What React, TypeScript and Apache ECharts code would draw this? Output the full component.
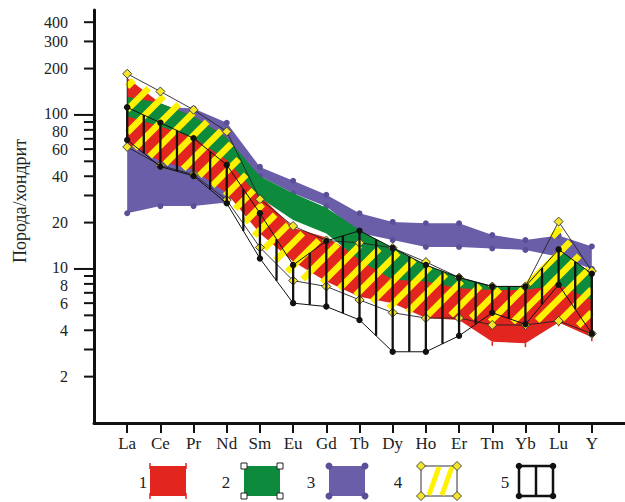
import React, { useEffect, useRef } from "react";
import * as echarts from "echarts";

const categories = ["La", "Ce", "Pr", "Nd", "Sm", "Eu", "Gd", "Tb", "Dy", "Ho", "Er", "Tm", "Yb", "Lu", "Y"];

const yTickValues = [2, 3, 4, 5, 6, 7, 8, 9, 10, 20, 30, 40, 50, 60, 70, 80, 90, 100, 200, 300, 400];
const yTickLabels = [400, 300, 200, 100, 80, 60, 40, 20, 10, 8, 6, 4, 2];
const yLongTicks = [10, 100];

// 1 — red band
const redLow = [65, 50, 44, 31, 17, 11.2, 8.3, 6.6, 6.0, 4.8, 4.67, 3.37, 3.3, 4.5, 3.6];
const redHigh = [174, 119, 98, 71, 30, 18.5, 16, 12, 9, 8.5, 7.9, 7.5, 7.5, 8.2, 6.6];
// 2 — green band
const greenLow = [98, 84, 71, 51, 29, 20.8, 17, 11.4, 8.5, 8.3, 7.5, 7.3, 7.3, 7.9, 6.3];
const greenHigh = [131, 119, 98, 71, 40, 31, 25, 17.9, 13.7, 10.6, 8.8, 7.7, 7.7, 13.4, 9.3];
// 3 — purple band
const purpleLow = [23, 25.6, 25.6, 27, 40, 31, 25.4, 17.1, 15.4, 13.9, 13.9, 13.6, 13.3, 12, 10];
const purpleHigh = [112, 113, 110, 89, 46, 37.4, 30.3, 23, 20.2, 19.8, 19.8, 16.6, 15.4, 16.5, 14];
// 4 — yellow hatched field
const yellowLow = [62, 47, 41, 28, 13.8, 8.4, 7.7, 6.3, 5.2, 4.8, 4.8, 4.33, 4.33, 4.6, 3.8];
const yellowHigh = [185, 142, 108, 78, 28.4, 19, 15.3, 14.8, 13.7, 11.1, 8.8, 7.7, 7.7, 20.3, 9.7];
// 5 — black hatched field
const blackLow = [68.8, 46.2, 40.2, 26.7, 11.7, 6.0, 5.7, 4.67, 2.9, 2.9, 3.68, 5.2, 4.37, 7.9, 3.8];
const blackHigh = [112, 89, 70.6, 47.4, 23, 10.6, 15.2, 17.7, 13.7, 10.6, 8.8, 7.7, 7.7, 13.4, 9.3];

const legendLabels = ["1", "2", "3", "4", "5"];

const FONT = "'Times New Roman', 'Liberation Serif', 'DejaVu Serif', serif";
const RED = "#e2261f";
const GREEN = "#0e8a3c";
const PURPLE = "#6a5ea8";
const PURPLE_DOT = "#5a4f98";
const YELLOW = "#fff200";
const BLACK = "#111111";

type Pt = number[];

function interpY(pts: Pt[], x: number): number {
  if (x <= pts[0][0]) return pts[0][1];
  for (let i = 0; i < pts.length - 1; i++) {
    const a = pts[i];
    const b = pts[i + 1];
    if (x <= b[0]) {
      const t = (x - a[0]) / (b[0] - a[0]);
      return a[1] + t * (b[1] - a[1]);
    }
  }
  return pts[pts.length - 1][1];
}

function diamond(p: Pt) {
  const s = 4.5;
  return {
    type: "polygon",
    shape: { points: [[p[0], p[1] - s], [p[0] + s, p[1]], [p[0], p[1] + s], [p[0] - s, p[1]]] },
    style: { fill: "#f3e52a", stroke: "#333", lineWidth: 0.9 },
  };
}

function bandSeries(name: string, low: number[], high: number[], z: number, draw: (up: Pt[], lo: Pt[]) => any[]) {
  return {
    type: "custom",
    name,
    z,
    clip: false,
    silent: true,
    data: categories.map((_, i) => [i, low[i], high[i]]),
    encode: { x: 0, y: [1, 2] },
    renderItem: (params: any, api: any) => {
      if (params.dataIndex !== 0) return null;
      const up = high.map((v, i) => api.coord([i, v]));
      const lo = low.map((v, i) => api.coord([i, v]));
      return { type: "group", children: draw(up, lo) };
    },
  };
}

const polyOf = (up: Pt[], lo: Pt[]) => up.concat(lo.slice().reverse());

function stripes(up: Pt[], lo: Pt[]) {
  const segs: { a: number; b: number; c: number }[] = [];
  const x0 = up[0][0];
  const x1 = up[up.length - 1][0];
  const ymin = Math.min(...up.map((p) => p[1]));
  const ymax = Math.max(...lo.map((p) => p[1]));
  const period = 23;
  const inset = 2.5;
  for (let c = x0 + ymin - 10; c <= x1 + ymax + period; c += period) {
    let inRun = false;
    let start = 0;
    let last = 0;
    for (let x = x0; x <= x1 + 0.001; x += 0.5) {
      const y = c - x;
      const inside = y >= interpY(up, x) + inset && y <= interpY(lo, x) - inset;
      if (inside && !inRun) {
        inRun = true;
        start = x;
      } else if (!inside && inRun) {
        inRun = false;
        if (last - start > 0.5) segs.push({ a: start, b: last, c });
      }
      if (inside) last = x;
    }
    if (inRun && last - start > 0.5) segs.push({ a: start, b: last, c });
  }
  return segs.map((s) => ({
    type: "line",
    shape: { x1: s.a, y1: s.c - s.a, x2: s.b, y2: s.c - s.b },
    style: { stroke: YELLOW, lineWidth: 6.5, lineCap: "butt" },
  }));
}

function hatch(up: Pt[], lo: Pt[]) {
  const xs: number[] = [];
  for (let i = 0; i < up.length; i++) {
    xs.push(up[i][0]);
    if (i < up.length - 1) xs.push((up[i][0] + up[i + 1][0]) / 2);
  }
  return xs.map((x) => ({
    type: "line",
    shape: { x1: x, y1: interpY(up, x), x2: x, y2: interpY(lo, x) },
    style: { stroke: BLACK, lineWidth: 2.3 },
  }));
}

function buildOption() {
  const series: any[] = [
    bandSeries("3", purpleLow, purpleHigh, 2, (up, lo) => [
      { type: "polygon", shape: { points: polyOf(up, lo) }, style: { fill: PURPLE } },
      ...up.concat(lo).map((p) => ({ type: "circle", shape: { cx: p[0], cy: p[1], r: 3 }, style: { fill: PURPLE_DOT } })),
    ]),
    bandSeries("1", redLow, redHigh, 3, (up, lo) => [
      { type: "polygon", shape: { points: polyOf(up, lo) }, style: { fill: RED } },
      ...lo.map((p) => ({ type: "line", shape: { x1: p[0], y1: p[1], x2: p[0], y2: p[1] + 4 }, style: { stroke: RED, lineWidth: 1.5 } })),
    ]),
    bandSeries("2", greenLow, greenHigh, 4, (up, lo) => [
      { type: "polygon", shape: { points: polyOf(up, lo) }, style: { fill: GREEN } },
    ]),
    bandSeries("4", yellowLow, yellowHigh, 5, (up, lo) => [
      ...stripes(up, lo),
      { type: "polygon", shape: { points: polyOf(up, lo) }, style: { fill: "none", stroke: "#222", lineWidth: 0.9 } },
      ...up.concat(lo).map((p) => diamond(p)),
    ]),
    bandSeries("5", blackLow, blackHigh, 6, (up, lo) => [
      { type: "polyline", shape: { points: up }, style: { fill: "none", stroke: BLACK, lineWidth: 1 } },
      { type: "polyline", shape: { points: lo }, style: { fill: "none", stroke: BLACK, lineWidth: 1 } },
      ...hatch(up, lo),
      ...up.concat(lo).map((p) => ({ type: "circle", shape: { cx: p[0], cy: p[1], r: 3.2 }, style: { fill: BLACK } })),
    ]),
    {
      type: "custom",
      name: "yticks",
      z: 8,
      clip: false,
      silent: true,
      data: yTickValues.map((v) => [-1, v]),
      encode: { x: 0, y: 1 },
      renderItem: (params: any, api: any) => {
        const v = yTickValues[params.dataIndex];
        const p = api.coord([-1, v]);
        const len = yLongTicks.includes(v) ? 20 : 10;
        const children: any[] = [
          { type: "line", shape: { x1: p[0] - len, y1: p[1], x2: p[0], y2: p[1] }, style: { stroke: BLACK, lineWidth: 2 } },
        ];
        if (yTickLabels.includes(v)) {
          const dy = v === 10 || v === 100 ? -1.5 : v === 8 || v === 80 ? 1.5 : 0;
          children.push({
            type: "text",
            style: {
              text: String(v),
              x: p[0] - 26,
              y: p[1] + dy,
              align: "right",
              verticalAlign: "middle",
              textAlign: "right",
              textVerticalAlign: "middle",
              fontSize: 16,
              fontFamily: FONT,
              fill: "#222",
            },
          });
        }
        return { type: "group", children };
      },
    },
  ];

  const lx = [150, 244, 329, 421, 519];
  const tx = [143, 226, 311, 398, 505];
  const ly = 466;
  const lw = 36;
  const lh = 30;
  const graphic: any[] = [
    {
      type: "text",
      x: 20,
      y: 201,
      rotation: Math.PI / 2,
      style: {
        text: "Порода/хондрит",
        fontSize: 18,
        fontFamily: FONT,
        fill: "#222",
        align: "center",
        verticalAlign: "middle",
        textAlign: "center",
        textVerticalAlign: "middle",
      },
    },
  ];
  legendLabels.forEach((t, i) => {
    graphic.push({
      type: "text",
      x: tx[i],
      y: ly + lh / 2 + 1,
      style: { text: t, fontSize: 17, fontFamily: FONT, fill: "#222", align: "center", verticalAlign: "middle", textAlign: "center", textVerticalAlign: "middle" },
    });
  });
  const corners = (x: number) => [[x, ly], [x + lw, ly], [x, ly + lh], [x + lw, ly + lh]];
  graphic.push({ type: "rect", shape: { x: lx[0], y: ly, width: lw, height: lh }, style: { fill: RED } });
  corners(lx[0]).forEach((c) =>
    graphic.push({ type: "line", shape: { x1: c[0], y1: c[1] - 3, x2: c[0], y2: c[1] + 3 }, style: { stroke: RED, lineWidth: 1.5 } })
  );
  graphic.push({ type: "rect", shape: { x: lx[1], y: ly, width: lw, height: lh }, style: { fill: GREEN } });
  corners(lx[1]).forEach((c) =>
    graphic.push({ type: "rect", shape: { x: c[0] - 3, y: c[1] - 3, width: 6, height: 6 }, style: { fill: "#fff", stroke: "#222", lineWidth: 1 } })
  );
  graphic.push({ type: "rect", shape: { x: lx[2], y: ly, width: lw, height: lh }, style: { fill: PURPLE } });
  corners(lx[2]).forEach((c) => graphic.push({ type: "circle", shape: { cx: c[0], cy: c[1], r: 3.5 }, style: { fill: PURPLE_DOT } }));
  graphic.push({ type: "rect", shape: { x: lx[3], y: ly, width: lw, height: lh }, style: { fill: "#fff", stroke: "#333", lineWidth: 1 } });
  graphic.push({ type: "line", shape: { x1: lx[3] + 8, y1: ly + lh - 1, x2: lx[3] + 18, y2: ly + 1 }, style: { stroke: YELLOW, lineWidth: 5 } });
  graphic.push({ type: "line", shape: { x1: lx[3] + 21, y1: ly + lh - 1, x2: lx[3] + 31, y2: ly + 1 }, style: { stroke: YELLOW, lineWidth: 5 } });
  corners(lx[3]).forEach((c) =>
    graphic.push({
      type: "polygon",
      shape: { points: [[c[0], c[1] - 4.5], [c[0] + 4.5, c[1]], [c[0], c[1] + 4.5], [c[0] - 4.5, c[1]]] },
      style: { fill: "#f3e52a", stroke: "#333", lineWidth: 0.9 },
    })
  );
  graphic.push({ type: "rect", shape: { x: lx[4], y: ly, width: lw - 2, height: lh }, style: { fill: "none", stroke: BLACK, lineWidth: 2.5 } });
  graphic.push({ type: "line", shape: { x1: lx[4] + (lw - 2) / 2, y1: ly, x2: lx[4] + (lw - 2) / 2, y2: ly + lh }, style: { stroke: BLACK, lineWidth: 2.5 } });
  [[lx[4], ly], [lx[4] + lw - 2, ly], [lx[4], ly + lh], [lx[4] + lw - 2, ly + lh]].forEach((c) =>
    graphic.push({ type: "circle", shape: { cx: c[0], cy: c[1], r: 3.3 }, style: { fill: BLACK } })
  );

  return {
    animation: false,
    backgroundColor: "#ffffff",
    grid: { left: 94, top: 10, width: 550.4, height: 413, containLabel: false },
    xAxis: {
      type: "value",
      min: -1,
      max: 15,
      interval: 1,
      axisLine: { show: true, onZero: false, lineStyle: { color: BLACK, width: 3 } },
      axisTick: { show: true, length: 10, customValues: categories.map((_, i) => i), lineStyle: { color: BLACK, width: 2 } },
      axisLabel: {
        customValues: categories.map((_, i) => i),
        formatter: (v: number) => categories[v] ?? "",
        fontSize: 17,
        fontFamily: FONT,
        color: "#222",
        margin: 12,
      },
      splitLine: { show: false },
    },
    yAxis: {
      type: "log",
      logBase: 10,
      min: 1,
      max: 480,
      axisLine: { show: true, onZero: false, lineStyle: { color: BLACK, width: 3 } },
      axisTick: { show: false },
      axisLabel: { show: false },
      splitLine: { show: false },
      minorSplitLine: { show: false },
    },
    graphic,
    series,
  };
}

export default function App() {
  const ref = useRef<HTMLDivElement>(null);
  useEffect(() => {
    if (!ref.current) return;
    const chart = echarts.init(ref.current, undefined, { renderer: "svg" });
    chart.setOption(buildOption() as any);
    return () => chart.dispose();
  }, []);
  return <div ref={ref} style={{ position: "absolute", left: 0, top: 0, width: 625, height: 502, background: "#fff" }} />;
}
